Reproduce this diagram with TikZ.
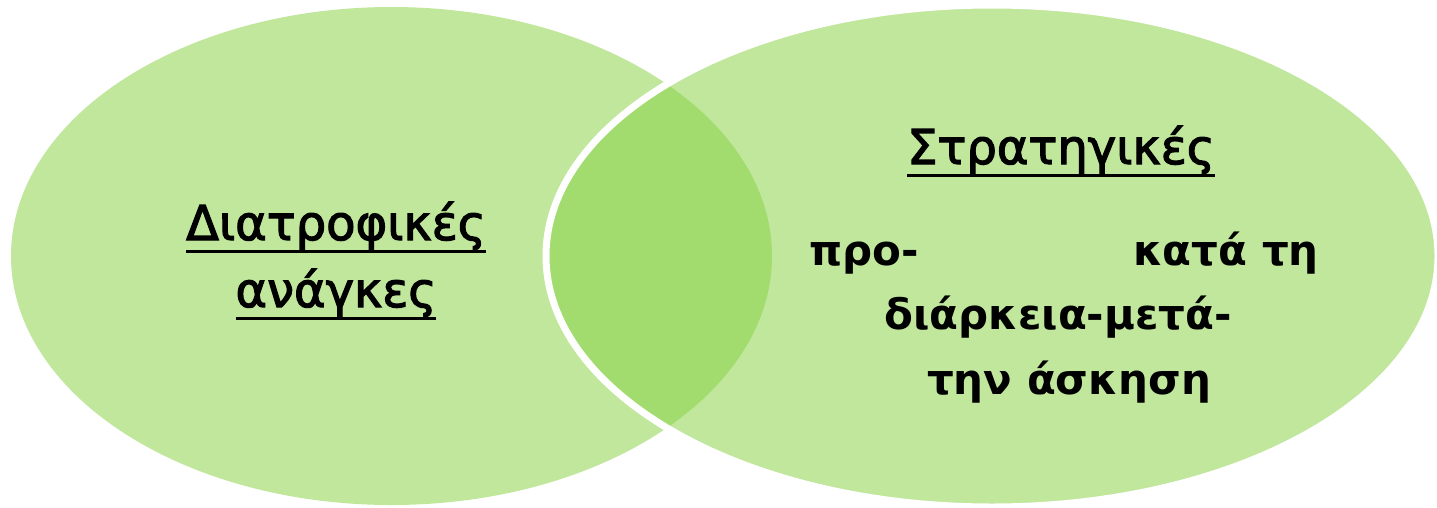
\documentclass[tikz,border=0pt]{standalone}
\usepackage{fontspec}
\setmainfont{DejaVu Sans}
\newfontfamily\vennfont[FakeBold=2.5]{DejaVu Sans}
\usetikzlibrary{positioning}
\definecolor{vennlight}{RGB}{193,231,157}
\definecolor{venndark}{RGB}{162,220,110}
\newcommand\ulword[1]{\setbox0\hbox{#1}\rlap{\rule[-0.27em]{\wd0}{0.06em}}\box0}

\begin{document}
\begin{tikzpicture}[x=1pt,y=-1pt, venntext/.style={font=\fontsize{48}{56}\vennfont,inner sep=0pt,anchor=base}, strongtext/.style={venntext,font=\fontsize{42}{50}\selectfont\bfseries}]
\useasboundingbox (0,0) rectangle (1437,507);
% the two sets
\fill[vennlight] (391.5,256) ellipse [x radius=380.5, y radius=249];
\fill[vennlight] (992,256) ellipse [x radius=446, y radius=251];
\begin{scope}
\clip (391.5,256) ellipse [x radius=380.5, y radius=249];
\fill[venndark] (992,256) ellipse [x radius=446, y radius=251];
\end{scope}
\draw[white,line width=7] (992,256) ellipse [x radius=446, y radius=251];
% left set
\node[venntext] (needs1) at (336,240) {\ulword{Διατροφικές}};
\node[venntext] (needs2) at (336,307) {\ulword{ανάγκες}};
% right set
\node[venntext] (strat) at (1061,164) {\ulword{Στρατηγικές}};
\node[strongtext,anchor=base west] (pre) at (809,265) {προ-};
\node[strongtext,anchor=base east] (during) at (1319,265) {κατά τη};
\node[strongtext] (after) at (1058,329) {διάρκεια-μετά-};
\node[strongtext] (exercise) at (1069,394) {την άσκηση};
\end{tikzpicture}
\end{document}
